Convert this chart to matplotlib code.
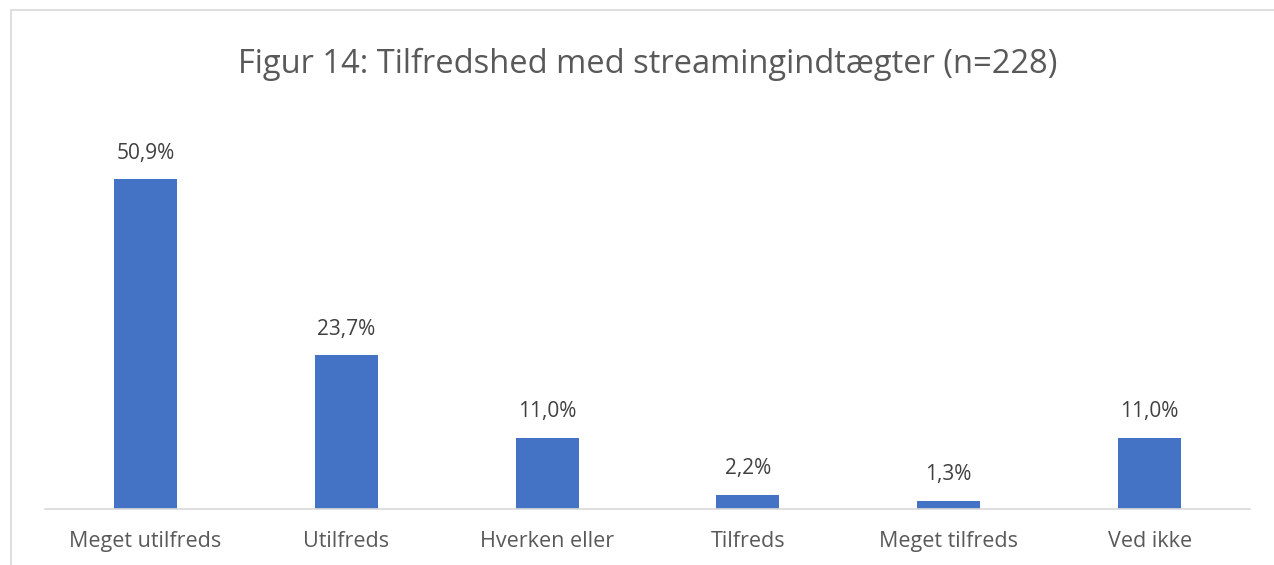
import matplotlib
matplotlib.use("Agg")
import matplotlib.pyplot as plt
from matplotlib.patches import Rectangle

categories = ["Meget utilfreds", "Utilfreds", "Hverken eller", "Tilfreds", "Meget tilfreds", "Ved ikke"]
values = [50.9, 23.7, 11.0, 2.2, 1.3, 11.0]
labels = ["50,9%", "23,7%", "11,0%", "2,2%", "1,3%", "11,0%"]
title = "Figur 14: Tilfredshed med streamingindtægter (n=228)"

plt.rcParams['font.family'] = ['Open Sans', 'DejaVu Sans']

W, H = 1274, 565
fig = plt.figure(figsize=(W / 100, H / 100), dpi=100)
fig.patch.set_facecolor("white")
fig.patches.append(Rectangle((11 / W, -0.1), 2, 1.1 - 10 / H, transform=fig.transFigure,
                             fill=False, edgecolor="#d9d9d9", linewidth=1.2))

ax = fig.add_axes([45 / W, 1 - 509 / H, (1250 - 45) / W, (509 - 120) / H])
x = range(len(categories))
bars = ax.bar(x, values, width=0.313, color="#4472c4")
ax.set_xlim(-0.5, len(categories) - 0.5)
ax.set_ylim(0, 60)
for b, lab in zip(bars, labels):
    ax.annotate(lab, (b.get_x() + b.get_width() / 2, b.get_height()), xytext=(0, 11),
                textcoords="offset points", ha="center", va="bottom", fontsize=15, color="#404040")
ax.set_xticks(list(x))
ax.set_xticklabels(categories, fontsize=15.5, color="#595959")
ax.tick_params(axis="x", length=0, pad=16)
ax.set_yticks([])
for s in ["top", "right", "left"]:
    ax.spines[s].set_visible(False)
ax.spines["bottom"].set_color("#d9d9d9")
ax.spines["bottom"].set_linewidth(1.2)
fig.text((45 + 1250) / 2 / W, 1 - 64 / H, title, ha="center", va="center", fontsize=23.5, color="#595959")
fig.savefig("out.png", dpi=100)
